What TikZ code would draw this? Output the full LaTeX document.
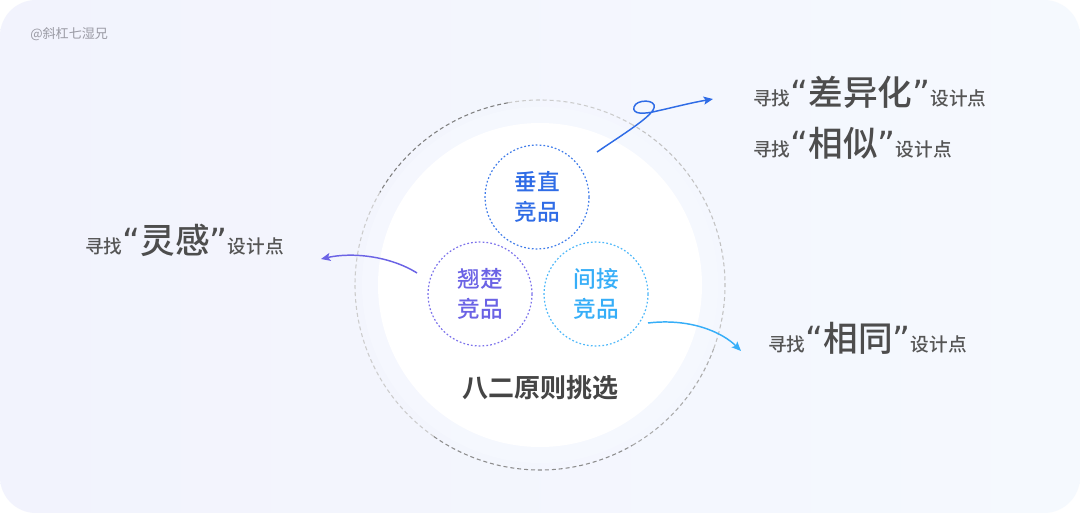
\documentclass[tikz,border=0pt]{standalone}
\usepackage{fontspec}
\setmainfont{Noto Sans CJK SC}
\newfontfamily\medf{Noto Sans CJK SC}[UprightFont={* Medium}, BoldFont={* Bold}]
\newfontfamily\qf{DejaVu Sans}
\usetikzlibrary{arrows.meta}
\definecolor{bgL}{HTML}{F2F3FD}
\definecolor{bgR}{HTML}{F5F9FE}
\definecolor{halo}{HTML}{F7FAFF}
\definecolor{txt}{HTML}{555555}
\definecolor{bigtxt}{HTML}{4D4D4D}
\definecolor{vblue}{HTML}{2F6CE6}
\definecolor{vcirc}{HTML}{3F7CEA}
\definecolor{lpur}{HTML}{6B63E5}
\definecolor{lcirc}{HTML}{7C72EC}
\definecolor{rblue}{HTML}{36AEF8}
\definecolor{rcirc}{HTML}{4DB8FA}
\definecolor{wmark}{HTML}{9A9AA4}
\newcommand\bq[1]{{\fontsize{26}{30}\selectfont\color{bigtxt}#1}}
\newcommand\lqt{{\fontsize{26}{30}\selectfont\qf\color{bigtxt}“}}
\newcommand\rqt{{\fontsize{26}{30}\selectfont\qf\color{bigtxt}”}}
\tikzset{
  lbl/.style={inner sep=0pt, text=txt, font=\medf\fontsize{14}{16}\selectfont, anchor=base west},
  comp/.style={circle, minimum size=78pt, inner sep=0pt, line width=0.9pt,
               dash pattern=on 1.3pt off 1.6pt, align=center,
               font=\medf\fontsize{17}{22.5}\selectfont},
  odash/.style={line width=0.8pt, dash pattern=on 3pt off 2.2pt},
  arr/.style={line width=1.1pt, -{Stealth[length=7pt,width=6pt,inset=1.5pt]}},
}
\begin{document}
\begin{tikzpicture}[x=0.75pt,y=-0.75pt]
\useasboundingbox (0,0) rectangle (1080,513);
\fill[white] (0,0) rectangle (1080,513);
\shade[left color=bgL, right color=bgR, rounded corners=27pt] (0,0) rectangle (1080,513);

\coordinate (C) at (540,285);
% halo and white disc
\fill[halo, opacity=0.55] (C) circle (178);
\fill[white] (C) circle (162);

% outer dashed ring (page angles, mirrored because y points down)
\draw[odash, color=black!20] ([shift={(-60:185)}]C) arc[start angle=-60, end angle=-100, radius=185];
\draw[odash, color=black!50] ([shift={(-100:185)}]C) arc[start angle=-100, end angle=-150, radius=185];
\draw[odash, color=black!20] ([shift={(-150:185)}]C) arc[start angle=-150, end angle=-235, radius=185];
\draw[odash, color=black!45] ([shift={(-235:185)}]C) arc[start angle=-235, end angle=-300, radius=185];
\draw[odash, color=black!33] ([shift={(-300:185)}]C) arc[start angle=-300, end angle=-340, radius=185];
\draw[odash, color=black!24] ([shift={(-340:185)}]C) arc[start angle=-340, end angle=-420, radius=185];

% component circles
\node[comp, draw=vcirc, text=vblue] (v) at (537,197) {垂直\\竞品};
\node[comp, draw=lcirc, text=lpur] (l) at (480,294) {翘楚\\竞品};
\node[comp, draw=rcirc, text=rblue] (r) at (596,294) {间接\\竞品};

\node[inner sep=0pt, text=black!73, font=\medf\fontsize{19.5}{22}\selectfont\bfseries] (title) at (540,388) {八二原则挑选};

% labels
\node[lbl] (t1) at (753,106) {寻找\lqt\bq{差异化}\rqt 设计点};
\node[lbl] (t2) at (753,157) {寻找\lqt\bq{相似}\rqt 设计点};
\node[lbl] (t3) at (85,253) {寻找\lqt\bq{灵感}\rqt 设计点};
\node[lbl] (t4) at (768,351) {寻找\lqt\bq{相同}\rqt 设计点};

\node[inner sep=0pt, anchor=west, text=wmark, font=\fontsize{9.8}{11}\selectfont] (wm) at (30,34) {@斜杠七湿兄};

% arrows
\coordinate (a1s) at (597,152);
\coordinate (a1e) at (713,99);
\coordinate (a2s) at (417,273);
\coordinate (a2e) at (321,259);
\coordinate (a3s) at (648,323);
\coordinate (a3e) at (741,351);

\draw[arr, color=vblue] (a1s) .. controls (625,133) and (651,117) .. (654,108)
   .. controls (657,99) and (636,99) .. (634,107)
   .. controls (632,115) and (645,114) .. (657,111)
   .. controls (675,107) and (690,103) .. (a1e);
\draw[arr, color=lpur] (a2s) .. controls (390,256) and (352,252) .. (a2e);
\draw[arr, color=rblue] (a3s) .. controls (690,318) and (722,332) .. (a3e);
\end{tikzpicture}
\end{document}
